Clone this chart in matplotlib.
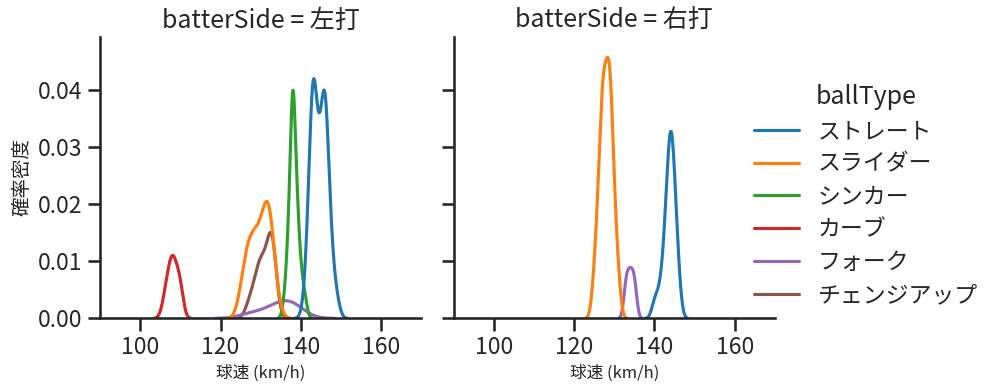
import matplotlib
matplotlib.use("agg")
import matplotlib.pyplot as plt
import numpy as np
import pandas as pd
import seaborn as sns

# Category orders
ball_types = ["ストレート", "スライダー", "シンカー", "カーブ", "フォーク", "チェンジアップ"]
sides = ["左打", "右打"]

# Pitch speed frequency tables (km/h -> number of pitches)
# vs left-handed batters
left_straight_speed = [141, 142, 143, 144, 145, 146, 147, 148, 149]
left_straight_count = [1, 5, 13, 7, 7, 12, 5, 2, 1]
left_slider_speed = [125, 126, 127, 128, 129, 130, 131, 132, 133, 134]
left_slider_count = [1, 3, 3, 4, 3, 4, 4, 7, 3, 1]
left_sinker_speed = [136, 137, 138, 139, 140, 141]
left_sinker_count = [1, 4, 11, 5, 2, 1]
left_curve_speed = [106, 107, 108, 109, 110]
left_curve_count = [1, 2, 3, 2, 2]
left_fork_speed = [127, 131, 133, 135, 136, 137, 138, 140]
left_fork_count = [1, 1, 1, 1, 1, 1, 1, 1]
left_change_speed = [127, 128, 129, 130, 131, 132, 133]
left_change_count = [1, 1, 2, 3, 2, 3, 6]

# vs right-handed batters
right_straight_speed = [140, 141, 142, 143, 144, 145, 146]
right_straight_count = [1, 1, 2, 5, 9, 6, 2]
right_slider_speed = [125, 126, 127, 128, 129, 130, 131]
right_slider_count = [2, 5, 10, 10, 11, 5, 2]
right_fork_speed = [133, 134, 135]
right_fork_count = [2, 2, 2]

tables = [
    ("左打", "ストレート", left_straight_speed, left_straight_count),
    ("左打", "スライダー", left_slider_speed, left_slider_count),
    ("左打", "シンカー", left_sinker_speed, left_sinker_count),
    ("左打", "カーブ", left_curve_speed, left_curve_count),
    ("左打", "フォーク", left_fork_speed, left_fork_count),
    ("左打", "チェンジアップ", left_change_speed, left_change_count),
    ("右打", "ストレート", right_straight_speed, right_straight_count),
    ("右打", "スライダー", right_slider_speed, right_slider_count),
    ("右打", "フォーク", right_fork_speed, right_fork_count),
]

frames = []
for side, kind, speed, count in tables:
    frames.append(pd.DataFrame({
        "batterSide": side,
        "ballType": kind,
        "球速": np.repeat(speed, count).astype(float),
    }))
df = pd.concat(frames, ignore_index=True)

sns.set_theme(context="talk", style="ticks")
plt.rcParams["font.family"] = ["Noto Sans CJK JP", "DejaVu Sans"]

g = sns.displot(
    data=df, x="球速", hue="ballType", col="batterSide", kind="kde",
    hue_order=ball_types, col_order=sides, palette="tab10",
    height=4, aspect=1,
)
g.set(xlim=(90, 170), ylim=(0, 0.0493))
g.set_xlabels("球速 (km/h)", fontsize=12)
g.set_ylabels("確率密度", fontsize=14)

fig = g.figure
fig.set_size_inches(9.99, 3.91)
fig.subplots_adjust(left=100 / 999, right=775 / 999,
                    bottom=1 - 318.3 / 391, top=1 - 36.7 / 391,
                    wspace=32 / 321)
sns.move_legend(g, "center left", bbox_to_anchor=(733 / 999, 0.50),
                frameon=False, labelspacing=0.43)

fig.savefig("out.png", dpi=100)
